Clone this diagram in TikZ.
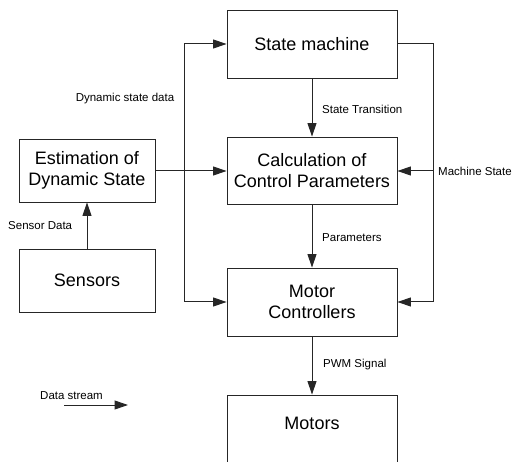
\documentclass[tikz,border=0pt]{standalone}
\usepackage{fontspec}
\setmainfont{Liberation Sans}
\usetikzlibrary{arrows.meta}
\begin{document}
\begin{tikzpicture}[x=1pt,y=-1pt,
  box/.style={draw=black!85,line width=0.9pt,inner sep=0pt,align=center,font=\fontsize{18}{21}\selectfont},
  bigbox/.style={box,minimum width=170pt,minimum height=68pt},
  smallbox/.style={box,minimum width=136pt,minimum height=63pt},
  lbl/.style={inner sep=0pt,font=\fontsize{11.5}{13}\selectfont},
  flow/.style={draw=black!85,line width=1pt,-{Triangle[length=13.5pt,width=9pt]}},
  wire/.style={draw=black!85,line width=1pt}]
\useasboundingbox (0,0) rectangle (514,462);
\node[bigbox] (sm) at (312,44) {State machine};
\node[bigbox,minimum height=67pt] (calc) at (312,170.5) {Calculation of\\Control Parameters};
\node[bigbox] (mc) at (312,302) {Motor\\Controllers};
\node[bigbox,text depth=11pt] (mot) at (312,429) {Motors};
\node[smallbox] (est) at (87,170.5) {Estimation of\\Dynamic State};
\node[smallbox] (sens) at (87,280.5) {Sensors};
% left bus
\coordinate (lt) at (184,44);
\coordinate (lb) at (184,302);
\draw[flow] (est.east |- 0,171) -- (calc.west |- 0,171);
\draw[flow] (lt) -- (sm.west |- lt);
\draw[wire] (lt) -- (lb);
\draw[flow] (lb) -- (mc.west |- lb);
% right bus
\coordinate (rt) at (433,44);
\coordinate (rm) at (433,171);
\coordinate (rb) at (433,302);
\draw[wire] (sm.east |- rt) -- (rt) -- (rb);
\draw[flow] (rm) -- (calc.east |- rm);
\draw[flow] (rb) -- (mc.east |- rb);
% vertical flows
\draw[flow] (sm) -- (calc);
\draw[flow] (calc) -- (mc);
\draw[flow] (mc) -- (mot);
\draw[flow] (sens) -- (est);
% labels
\node[lbl] (l1) at (125,99) {Dynamic state data};
\node[lbl,anchor=west] (l2) at (322,109) {State Transition};
\node[lbl,anchor=west] (l3) at (438,171) {Machine State};
\node[lbl,anchor=west] (l4) at (322,238) {Parameters};
\node[lbl,anchor=west] (l5) at (323,365) {PWM Signal};
\node[lbl,anchor=west] (l6) at (8,226) {Sensor Data};
\node[lbl,anchor=west] (l7) at (40,396) {Data stream};
\coordinate (ds1) at (64,405);
\coordinate (ds2) at (128,405);
\draw[flow] (ds1) -- (ds2);
\end{tikzpicture}
\end{document}
